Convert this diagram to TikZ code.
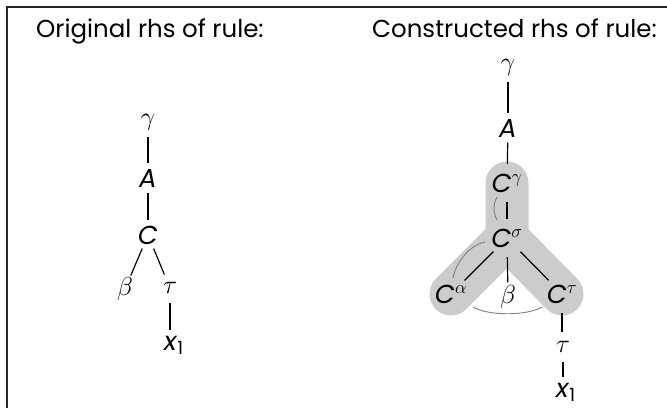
\RequirePackage{fix-cm}
\documentclass[tikz,border=0pt]{standalone}
\usepackage{fontspec}
\setmainfont{Poppins}
\usetikzlibrary{backgrounds}
\begin{document}
\begin{tikzpicture}[x=1pt,y=-1pt,
  lbl/.style={circle,inner sep=0pt,minimum size=29pt,font=\fontsize{26}{30}\selectfont},
  big/.style={lbl,minimum size=38pt},
  edge/.style={line width=1.2pt,black},
  arcmark/.style={draw=black!50,line width=0.9pt},
  capsule/.style={draw=black!20,line width=43pt,line cap=round,line join=round},
  title/.style={anchor=base west,inner sep=0pt,font=\fontsize{24.5}{30}\selectfont}]
\useasboundingbox (0,0) rectangle (667,408);
\draw[line width=1.8pt,black!85] (667,7) -- (7,7) -- (7,408);

\node[title] (t1) at (36,37) {Original rhs of rule:};
\node[title] (t2) at (372,37) {Constructed rhs of rule:};

% left tree
\node[lbl] (g1) at (148,122) {$\gamma$};
\node[lbl] (A1) at (148,178) {\textit{A}};
\node[lbl] (C1) at (148,235) {\textit{C}};
\node[lbl] (b1) at (125,289) {$\beta$};
\node[lbl] (t1n) at (170,288) {$\tau$};
\node[lbl] (x1) at (174,345) {\textit{x}\textsubscript{1}};
\draw[edge] (g1) -- (A1);
\draw[edge] (A1) -- (C1);
\draw[edge] (C1) -- (b1);
\draw[edge] (C1) -- (t1n);
\draw[edge] (t1n.south) -- (t1n.south |- x1.north);

% right tree
\node[lbl] (g2) at (508,67) {$\gamma$};
\node[lbl] (A2) at (508,128) {\textit{A}};
\node[big] (Cg) at (507,183) {\textit{C}$^{\gamma}$};
\node[big] (Cs) at (507,238) {\textit{C}$^{\sigma}$};
\node[big] (Ca) at (451,294) {\textit{C}$^{\alpha}$};
\node[lbl] (b2) at (508,297) {$\beta$};
\node[big] (Ct) at (562,294) {\textit{C}$^{\tau}$};
\node[lbl] (t2n) at (563,347) {$\tau$};
\node[lbl] (x2) at (566,392) {\textit{x}\textsubscript{1}};

\begin{scope}[on background layer]
  \draw[capsule] (Cg.center) -- (Cs.center) -- (Ca.center);
  \draw[capsule] (Cs.center) -- (Ct.center);
\end{scope}

\draw[edge] (g2) -- (A2);
\draw[edge] (A2) -- (Cg);
\draw[edge] (Cg) -- (Cs);
\draw[edge] (Cs) -- (Ca);
\draw[edge] (Cs) -- (b2);
\draw[edge] (Cs) -- (Ct);
\draw[edge] (Ct.south) -- (Ct.south |- t2n.north);
\draw[edge] (t2n.south) -- (t2n.south |- x2.north);

% adjacency arcs
\draw[arcmark] (497,197) .. controls (493,204) and (493,213) .. (497,220);
\draw[arcmark] (485,242) .. controls (470,245) and (456,262) .. (453,278);
\draw[arcmark] (473,307) .. controls (488,316) and (527,316) .. (542,307);
\end{tikzpicture}
\end{document}
